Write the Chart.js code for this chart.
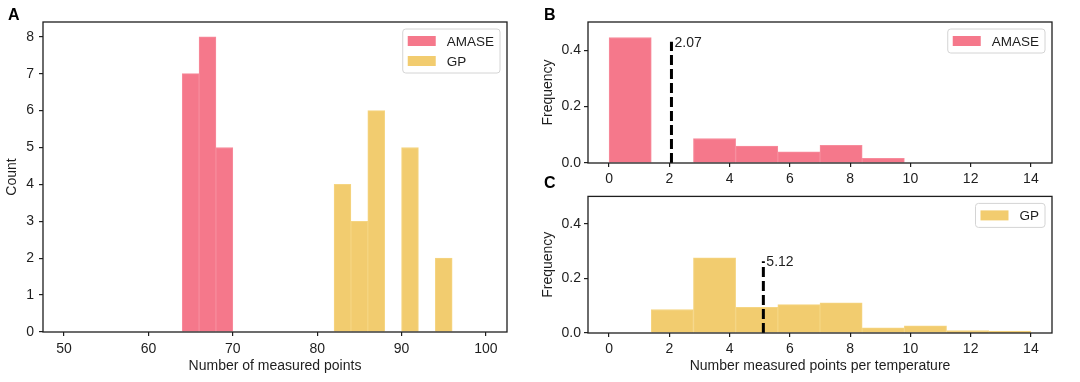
<!DOCTYPE html>
<html lang="en">
<head>
    <meta charset="UTF-8">
    <title>Measured points histograms</title>
    <script src="https://cdn.jsdelivr.net/npm/chart.js"></script>
    <style>
        body { margin: 0; background: #fff; }
        .figure { position: relative; width: 1080px; height: 382px; overflow: hidden; }
        .panel { position: absolute; }
        .tag { position: absolute; font: bold 16px "Liberation Sans", Arial, sans-serif; color: #000; }
    </style>
</head>
<body>
    <div class="figure">
        <canvas id="histA" class="panel" width="540" height="382" style="left:0;top:0"></canvas>
        <canvas id="histB" class="panel" width="540" height="185" style="left:540px;top:0"></canvas>
        <canvas id="histC" class="panel" width="540" height="197" style="left:540px;top:185px"></canvas>
        <div class="tag" style="left:8px;top:6px">A</div>
        <div class="tag" style="left:544px;top:6px">B</div>
        <div class="tag" style="left:544px;top:174px">C</div>
    </div>

    <script>
        // Panel A: number of measured points per run (bin width 2)
        const amaseBinStarts = [64, 66, 68];
        const amaseCounts = [7, 8, 5];
        const gpBinStarts = [82, 84, 86, 88, 90, 92, 94];
        const gpCounts = [4, 3, 6, 0, 5, 0, 2];
        const binWidthA = 2;
        const xTicksA = [50, 60, 70, 80, 90, 100];
        const yTicksA = [0, 1, 2, 3, 4, 5, 6, 7, 8];

        // Panels B and C: measured points per temperature (normalised)
        const binEdgesBC = [0, 1.4, 2.8, 4.2, 5.6, 7.0, 8.4, 9.8, 11.2, 12.6, 14];
        const amaseFreq = [0.445, 0, 0.087, 0.060, 0.040, 0.063, 0.017, 0, 0, 0];
        const gpFreq = [0, 0.086, 0.275, 0.094, 0.104, 0.110, 0.019, 0.026, 0.009, 0.007];
        const amaseMean = 2.07;
        const gpMean = 5.12;
        const amaseMeanTop = 0.43;
        const gpMeanTop = 0.263;
        const xTicksBC = [0, 2, 4, 6, 8, 10, 12, 14];
        const yTicksBC = [0, 0.2, 0.4];

        const PINK = '#f5788b';
        const PINK_EDGE = '#f78c9c';
        const GOLD = '#f2cc6f';
        const GOLD_EDGE = '#f5d582';
        const INK = '#1e1e1e';
        const FONT = '"Liberation Sans", Arial, sans-serif';

        Chart.defaults.font.family = FONT;
        Chart.defaults.font.size = 14;
        Chart.defaults.color = INK;

        function barsFromStarts(starts, width, values) {
            return starts.map((s, i) => ({ x: s + width / 2, y: values[i] }));
        }
        function barsFromEdges(edges, values) {
            return values.map((v, i) => ({ x: (edges[i] + edges[i + 1]) / 2, y: v }));
        }

        // box around the plot area, like a matplotlib axes frame
        const framePlugin = {
            id: 'frame',
            afterDraw(chart) {
                const { ctx, chartArea: a } = chart;
                ctx.save();
                ctx.strokeStyle = INK;
                ctx.lineWidth = 1.3;
                ctx.strokeRect(a.left, a.top, a.right - a.left, a.bottom - a.top);
                ctx.restore();
            }
        };

        // legend drawn inside the plot, top right
        const boxLegend = {
            id: 'boxLegend',
            afterDraw(chart) {
                const items = chart.data.datasets.filter(d => d.type !== 'line');
                const { ctx, chartArea: a } = chart;
                ctx.save();
                ctx.font = '13.5px ' + FONT;
                const textW = Math.max(...items.map(d => ctx.measureText(d.label).width));
                const pad = 5, patchW = 28, patchH = 10, gap = 11, rowH = 20;
                const w = pad + patchW + gap + textW + 6;
                const h = items.length * rowH + 4;
                const x = a.right - 7 - w, y = a.top + 7;
                ctx.fillStyle = 'rgba(255,255,255,0.85)';
                ctx.strokeStyle = '#d4d4d4';
                ctx.lineWidth = 1;
                ctx.beginPath();
                ctx.roundRect(x, y, w, h, 3);
                ctx.fill();
                ctx.stroke();
                items.forEach((d, i) => {
                    const cy = y + 2 + rowH * (i + 0.5);
                    ctx.fillStyle = d.backgroundColor;
                    ctx.fillRect(x + pad, cy - patchH / 2, patchW, patchH);
                    ctx.fillStyle = INK;
                    ctx.textBaseline = 'middle';
                    ctx.fillText(d.label, x + pad + patchW + gap, cy + 1);
                });
                ctx.restore();
            }
        };

        // value printed next to the top of the dashed mean line
        const meanLabel = {
            id: 'meanLabel',
            afterDatasetsDraw(chart) {
                const { ctx } = chart;
                chart.data.datasets.forEach(d => {
                    if (d.type !== 'line') return;
                    const top = d.data[d.data.length - 1];
                    const px = chart.scales.x.getPixelForValue(top.x);
                    const py = chart.scales.y.getPixelForValue(top.y);
                    ctx.save();
                    ctx.font = '14px ' + FONT;
                    ctx.fillStyle = INK;
                    ctx.textBaseline = 'middle';
                    ctx.fillText(d.label, px + 3, py + 1);
                    ctx.restore();
                });
            }
        };

        function axisGrid() {
            return { display: true, drawOnChartArea: false, drawTicks: true, tickLength: 4, lineWidth: 1.2, color: INK, offset: false };
        }

        function xScale(min, max, tickValues, height, title, tickPad) {
            return {
                type: 'linear', min: min, max: max, offset: false,
                afterBuildTicks: s => { s.ticks = tickValues.map(v => ({ value: v })); },
                afterFit: s => { s.height = height; },
                grid: axisGrid(),
                border: { display: false },
                ticks: { padding: tickPad, maxRotation: 0, autoSkip: false },
                title: { display: !!title, text: title, padding: { top: 0, bottom: 7 } }
            };
        }

        function yScale(min, max, tickValues, width, title, tickPad, fmt) {
            return {
                min: min, max: max,
                afterBuildTicks: s => { s.ticks = tickValues.map(v => ({ value: v })); },
                afterFit: s => { s.width = width; },
                grid: axisGrid(),
                border: { display: false },
                ticks: { padding: tickPad, callback: fmt },
                title: { display: true, text: title, padding: { top: width > 45 ? 0 : 4, bottom: 0 } }
            };
        }

        function histBars(label, data, fill, edge) {
            return {
                type: 'bar', label: label, data: data,
                backgroundColor: fill, borderColor: edge, borderWidth: 1, borderSkipped: 'start',
                grouped: false, barPercentage: 1, categoryPercentage: 1, order: 1
            };
        }

        function meanLine(mean, top) {
            return {
                type: 'line', label: mean.toFixed(2),
                data: [{ x: mean, y: 0 }, { x: mean, y: top }],
                borderColor: '#000', borderWidth: 3, borderDash: [10, 4],
                pointRadius: 0, fill: false, order: 0
            };
        }

        const baseOptions = {
            responsive: false,
            animation: false,
            devicePixelRatio: 1,
            plugins: { legend: { display: false }, tooltip: { enabled: false } }
        };

        // Panel A
        new Chart(document.getElementById('histA'), {
            type: 'bar',
            data: {
                datasets: [
                    histBars('AMASE', barsFromStarts(amaseBinStarts, binWidthA, amaseCounts), PINK, PINK_EDGE),
                    histBars('GP', barsFromStarts(gpBinStarts, binWidthA, gpCounts), GOLD, GOLD_EDGE)
                ]
            },
            options: Object.assign({}, baseOptions, {
                layout: { padding: { left: 0, right: 33, top: 22, bottom: 0 } },
                scales: {
                    x: xScale(47.5, 102.5, xTicksA, 50, 'Number of measured points', 5),
                    y: yScale(0, 8.4, yTicksA, 43, 'Count', 5)
                }
            }),
            plugins: [framePlugin, boxLegend]
        });

        // Panel B
        new Chart(document.getElementById('histB'), {
            type: 'bar',
            data: {
                datasets: [
                    histBars('AMASE', barsFromEdges(binEdgesBC, amaseFreq), PINK, PINK_EDGE),
                    meanLine(amaseMean, amaseMeanTop)
                ]
            },
            options: Object.assign({}, baseOptions, {
                layout: { padding: { left: 0, right: 28, top: 22, bottom: 0 } },
                scales: {
                    x: xScale(-0.7, 14.7, xTicksBC, 22, '', 4),
                    y: yScale(0, 0.5, yTicksBC, 48, 'Frequency', 3, v => v.toFixed(1))
                }
            }),
            plugins: [framePlugin, boxLegend, meanLabel]
        });

        // Panel C
        new Chart(document.getElementById('histC'), {
            type: 'bar',
            data: {
                datasets: [
                    histBars('GP', barsFromEdges(binEdgesBC, gpFreq), GOLD, GOLD_EDGE),
                    meanLine(gpMean, gpMeanTop)
                ]
            },
            options: Object.assign({}, baseOptions, {
                layout: { padding: { left: 0, right: 28, top: 7, bottom: 0 } },
                scales: {
                    x: xScale(-0.7, 14.7, xTicksBC, 49, 'Number measured points per temperature', 4),
                    y: yScale(0, 0.5, yTicksBC, 48, 'Frequency', 3, v => v.toFixed(1))
                }
            }),
            plugins: [framePlugin, boxLegend, meanLabel]
        });
    </script>
</body>
</html>
